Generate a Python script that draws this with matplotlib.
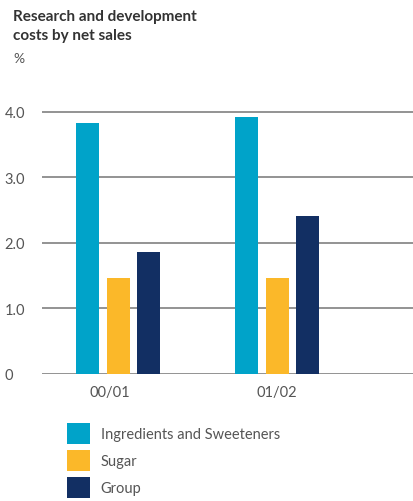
import numpy as np
import matplotlib
matplotlib.use("Agg")
import matplotlib.pyplot as plt

# data
years = ["00/01", "01/02"]
series = ["Ingredients and Sweeteners", "Sugar", "Group"]
ingredients = [3.83, 3.92]
sugar = [1.46, 1.46]
group = [1.86, 2.41]
colors = ["#00A3C9", "#FBB829", "#122F63"]

plt.rcParams["font.family"] = ["Lato", "DejaVu Sans"]

W, H = 413, 502
fig = plt.figure(figsize=(W / 100, H / 100), dpi=100)

# axes placement in pixels
left, right = 42, 413
y0_px = 375
unit = 65.6
ytop = 4.05
top_px = y0_px - ytop * unit
ax = fig.add_axes([left / W, (H - y0_px) / H, (right - left) / W, (y0_px - top_px) / H])

# x in pixel-like units so bars land where they do in the reference
x = np.array([118.0, 277.0]) - left
bw = 23
step = 30.3
for i, (vals, c, name) in enumerate(zip([ingredients, sugar, group], colors, series)):
    ax.bar(x + (i - 1) * step, vals, width=bw, color=c, label=name, zorder=3)

ax.set_xlim(0, right - left)
ax.set_ylim(0, ytop)
ax.set_yticks([0, 1, 2, 3, 4])
ax.set_yticklabels(["0", "1.0", "2.0", "3.0", "4.0"])
ax.set_xticks(x - np.array([8, 0]))
ax.set_xticklabels(years)
ax.grid(axis="y", color="#8a8a8a", linewidth=1.3, zorder=1)
ax.tick_params(axis="both", length=0, labelsize=10.5, colors="#555555")
ax.tick_params(axis="x", pad=8)
for lab in ax.get_yticklabels():
    lab.set_horizontalalignment("left")
ax.yaxis.set_tick_params(pad=27)
for s in ax.spines.values():
    s.set_visible(False)

fig.text(13 / W, 1 - 10 / H, "Research and development\ncosts by net sales",
         ha="left", va="top", fontsize=11, fontweight="bold", color="#333333",
         linespacing=1.45)
fig.text(13 / W, 1 - 53 / H, "%", ha="left", va="top", fontsize=10, color="#555555")

handles, labels = ax.get_legend_handles_labels()
fig.legend(handles, labels, loc="upper left", bbox_to_anchor=(67 / W, 1 - 424 / H),
           frameon=False, borderpad=0, borderaxespad=0, fontsize=10.5,
           handlelength=1.6, handleheight=1.8, handletextpad=0.7,
           labelspacing=0.45, labelcolor="#555555")

fig.savefig("out.png", dpi=100)
